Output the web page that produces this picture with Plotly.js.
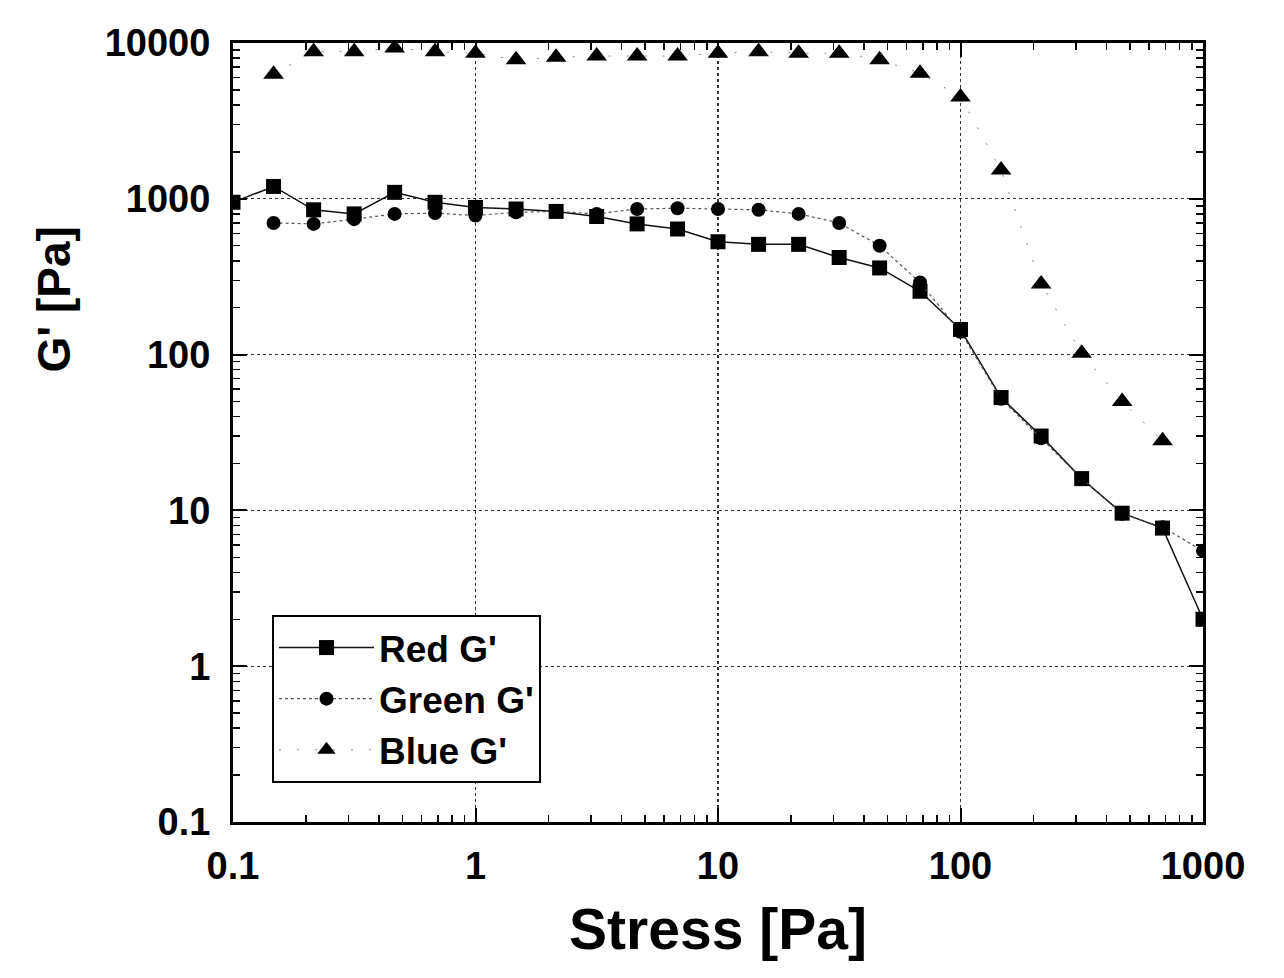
<!DOCTYPE html>
<html>
<head>
<meta charset="utf-8">
<script src="https://cdn.plot.ly/plotly-3.0.1.min.js"></script>
<style>html,body{margin:0;padding:0;background:#fff;}#chart{width:1284px;height:978px;}</style>
</head>
<body>
<div id="chart"></div>
<script>
// Stress values [Pa]
const stressRed = [0.1, 0.147, 0.215, 0.316, 0.464, 0.681, 1, 1.47, 2.15, 3.16, 4.64, 6.81, 10, 14.7, 21.5, 31.6, 46.4, 68.1, 100, 147, 215, 316, 464, 681, 1000];
const redG = [950, 1200, 850, 800, 1100, 950, 880, 860, 830, 770, 690, 640, 530, 510, 510, 420, 360, 255, 145, 53, 30, 16, 9.6, 7.7, 2];

const stressGreen = [0.147, 0.215, 0.316, 0.464, 0.681, 1, 1.47, 2.15, 3.16, 4.64, 6.81, 10, 14.7, 21.5, 31.6, 46.4, 68.1, 100, 147, 215, 316, 464, 681, 1000];
const greenG = [700, 690, 740, 800, 810, 780, 820, 830, 800, 860, 870, 860, 850, 800, 700, 500, 290, 140, 52, 29, 16, 9.5, 7.8, 5.5];

const stressBlue = [0.147, 0.215, 0.316, 0.464, 0.681, 1, 1.47, 2.15, 3.16, 4.64, 6.81, 10, 14.7, 21.5, 31.6, 46.4, 68.1, 100, 147, 215, 316, 464, 681];
const blueG = [6300, 8800, 8800, 9300, 8800, 8600, 7800, 8100, 8250, 8250, 8250, 8600, 8800, 8600, 8600, 7800, 6400, 4500, 1530, 284, 102, 50, 28];

const xTickVals = [0.1, 1, 10, 100, 1000];
const xTickText = ['0.1', '1', '10', '100', '1000'];
const yTickVals = [0.1, 1, 10, 100, 1000, 10000];
const yTickText = ['0.1', '1', '10', '100', '1000', '10000'];

const seriesNames = ["Red G'", "Green G'", "Blue G'"];
const xTitle = 'Stress [Pa]';
const yTitle = "G' [Pa]";

const FONT = 'Liberation Sans, Arial, Helvetica, sans-serif';

const traces = [
  {x: stressRed, y: redG, name: seriesNames[0], type: 'scatter', mode: 'lines+markers',
   line: {color: '#111', width: 1.5},
   marker: {symbol: 'square', size: 15, color: '#000'}},
  {x: stressGreen, y: greenG, name: seriesNames[1], type: 'scatter', mode: 'lines+markers',
   line: {color: '#555', width: 1.2, dash: 'dot'},
   marker: {symbol: 'circle', size: 14, color: '#000'}},
  {x: stressBlue, y: blueG, name: seriesNames[2], type: 'scatter', mode: 'lines+markers',
   line: {color: '#888', width: 1, dash: '2px,16px'},
   marker: {symbol: 'triangle-up', size: 18, color: '#000'}}
];

const axisCommon = {
  type: 'log',
  showline: true, linecolor: '#000', linewidth: 3, mirror: 'allticks',
  ticks: 'inside', ticklen: 14, tickwidth: 2, tickcolor: '#000',
  tickmode: 'array',
  showgrid: true, gridcolor: '#333', gridwidth: 1.3, griddash: 'dot',
  zeroline: false,
  tickfont: {family: FONT, size: 38, color: '#000', weight: 'bold'},
  minor: {ticks: 'inside', ticklen: 7, tickwidth: 1.5, tickcolor: '#000', dtick: 'D1', showgrid: false}
};

const layout = {
  width: 1284, height: 978,
  margin: {l: 233, r: 81, t: 43, b: 156},
  paper_bgcolor: '#fff', plot_bgcolor: '#fff',
  showlegend: true,
  xaxis: Object.assign({}, axisCommon, {
    range: [-1, 3], tickvals: xTickVals, ticktext: xTickText, ticklabelstandoff: 8,
    title: {text: xTitle, font: {family: FONT, size: 57, color: '#000', weight: 'bold'}, standoff: 24}
  }),
  yaxis: Object.assign({}, axisCommon, {
    range: [-1, 4], tickvals: yTickVals, ticktext: yTickText, ticklabelstandoff: 12
  }),
  legend: {
    x: 0.0402, y: 0.2657, xanchor: 'left', yanchor: 'top',
    bgcolor: '#fff', bordercolor: '#000', borderwidth: 2,
    font: {family: FONT, size: 37, color: '#000', weight: 'bold'},
    itemwidth: 95, tracegroupgap: 0
  },
  annotations: [{
    text: yTitle, xref: 'paper', yref: 'paper', x: -0.184, y: 0.67,
    xanchor: 'center', yanchor: 'middle', textangle: -90, showarrow: false,
    font: {family: FONT, size: 46, color: '#000', weight: 'bold'}
  }]
};

Plotly.newPlot('chart', traces, layout, {staticPlot: true, displayModeBar: false});
</script>
</body>
</html>
